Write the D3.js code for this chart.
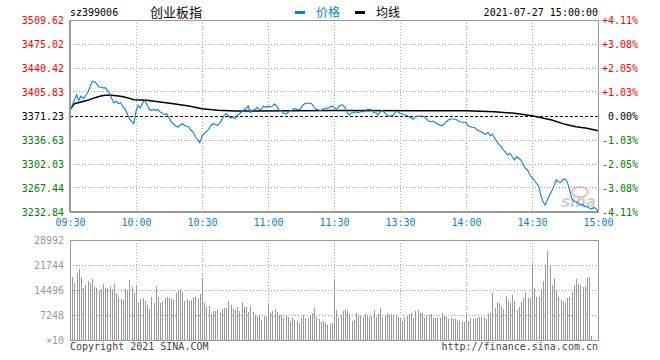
<!DOCTYPE html>
<html>
<head>
<meta charset="utf-8">
<script src="https://cdn.jsdelivr.net/npm/d3@7/dist/d3.min.js"></script>
<style>
  body { margin: 0; background: #fff; }
  text { font-family: "DejaVu Sans Mono", monospace; font-size: 10px; }
</style>
</head>
<body>
<div id="chart"></div>
<script>
const W = 660, H = 360;

// --- data ---
const code = "sz399006";
const title = "创业板指";
const stamp = "2021-07-27 15:00:00";
const prevClose = 3371.23;

const priceTicks = [3509.62, 3475.02, 3440.42, 3405.83, 3371.23, 3336.63, 3302.03, 3267.44, 3232.84];
const pctTicks = ["+4.11%", "+3.08%", "+2.05%", "+1.03%", "0.00%", "-1.03%", "-2.05%", "-3.08%", "-4.11%"];
const timeTicks = [0, 30, 60, 90, 120, 150, 180, 210, 240];
const timeLabels = ["09:30", "10:00", "10:30", "11:00", "11:30", "13:30", "14:00", "14:30", "15:00"];
const volTicks = [28992, 21744, 14496, 7248, 0];

// one price per minute, 0 = 09:30 ... 120 = 11:30/13:00 ... 240 = 15:00
const prices = [
  3379.45, 3386.66, 3393.87, 3401.94, 3393.87, 3400.07, 3396.17, 3400.07, 3404.82, 3412.32,
  3420.25, 3421.26, 3417.80, 3413.04, 3413.04, 3411.60, 3412.03, 3408.28, 3403.38, 3396.17,
  3390.41, 3392.42, 3388.96, 3390.41, 3384.21, 3381.75, 3374.55, 3367.34, 3363.59, 3360.13,
  3378.00, 3386.66, 3382.76, 3390.41, 3393.87, 3387.50, 3380.89, 3379.45, 3380.89, 3379.45,
  3380.31, 3377.00, 3375.00, 3373.10, 3374.55, 3368.35, 3362.58, 3360.13, 3356.81, 3355.37,
  3357.82, 3360.13, 3357.82, 3356.50, 3355.37, 3350.61, 3348.16, 3340.95, 3337.35, 3332.74,
  3342.39, 3345.71, 3349.17, 3352.05, 3357.82, 3360.13, 3359.26, 3357.82, 3360.50, 3366.00,
  3372.24, 3374.55, 3371.23, 3368.35, 3369.79, 3367.34, 3372.24, 3374.55, 3377.00, 3380.00,
  3381.75, 3385.65, 3375.99, 3379.88, 3379.88, 3383.77, 3380.89, 3380.89, 3385.65, 3383.77,
  3384.70, 3385.00, 3385.65, 3388.53, 3385.65, 3379.88, 3378.87, 3375.12, 3374.11, 3375.99,
  3378.87, 3379.88, 3382.33, 3380.89, 3379.88, 3382.33, 3387.09, 3389.54, 3389.54, 3389.54,
  3388.53, 3383.77, 3380.89, 3379.88, 3378.87, 3380.89, 3382.33, 3382.33, 3383.77, 3385.65,
  3383.77, 3380.89, 3383.77, 3387.09, 3387.09, 3383.77, 3375.99, 3372.67, 3375.99, 3375.99,
  3377.43, 3375.99, 3377.43, 3377.43, 3377.43, 3380.89, 3380.89, 3379.88, 3375.99, 3375.99,
  3372.67, 3377.43, 3378.87, 3375.99, 3372.67, 3371.23, 3371.23, 3372.67, 3377.43, 3377.43,
  3375.12, 3374.00, 3372.67, 3372.67, 3370.22, 3368.78, 3366.47, 3370.22, 3371.23, 3371.23,
  3371.23, 3370.22, 3367.50, 3364.02, 3363.01, 3364.02, 3362.15, 3360.00, 3358.25, 3357.25,
  3359.26, 3363.01, 3365.46, 3366.90, 3366.90, 3366.47, 3365.46, 3363.01, 3362.50, 3362.15,
  3362.15, 3357.25, 3355.80, 3355.00, 3354.36, 3351.05, 3349.60, 3348.59, 3346.29, 3344.85,
  3347.73, 3342.83, 3344.85, 3339.94, 3334.18, 3330.43, 3326.97, 3322.21, 3318.89, 3315.00,
  3317.45, 3312.55, 3307.79, 3312.55, 3310.24, 3307.79, 3300.58, 3295.83, 3293.38, 3286.17,
  3282.27, 3278.96, 3274.20, 3270.74, 3257.33, 3247.67, 3242.91, 3250.12, 3257.33, 3263.10,
  3270.31, 3278.96, 3276.51, 3275.64, 3278.96, 3280.40, 3276.51, 3266.00, 3252.57, 3248.68,
  3247.67, 3245.37, 3242.91, 3243.92, 3240.46, 3240.46, 3238.50, 3237.15, 3239.02, 3238.16,
  3233.25
];

// average price line, sampled
const avgMinutes = [0, 2, 5, 8, 11, 14, 16, 19, 23, 26, 29, 35, 41, 47, 54, 60, 67, 75, 81, 120, 160, 180, 193, 202, 210, 219, 225, 230, 235, 240];
const avgValues = [3380.0, 3388.96, 3391.41, 3393.87, 3397.18, 3400.07, 3401.07, 3401.07, 3399.63, 3397.61,
  3394.73, 3393.87, 3391.41, 3388.96, 3385.65, 3381.75, 3379.45, 3378.44, 3378.44, 3379.16,
  3378.87, 3378.87, 3377.43, 3375.12, 3371.66, 3365.46, 3359.26, 3355.80, 3353.50, 3350.04];

// volume per minute (hands / 10)
const volumes = [
  28200, 18360, 16620, 19520, 20580, 18360, 15000, 16000, 17000, 16500,
  17800, 15500, 15000, 14200, 14800, 16200, 15200, 15000, 15300, 14800,
  16200, 13600, 12300, 12000, 11500, 14800, 14200, 17500, 15500, 13500,
  15800, 10800, 11800, 12200, 11200, 10200, 9100, 12600, 10800, 15700,
  12600, 10800, 11300, 12200, 12600, 12200, 12000, 11500, 13700, 14500,
  14500, 13800, 11200, 12000, 11400, 11600, 12400, 12600, 11800, 13300,
  17900, 10700, 9600, 9900, 7500, 8500, 8300, 8800, 7800, 8988,
  9181, 9181, 11307, 10147, 8988, 8698, 9471, 8408, 10631, 9664,
  9471, 8021, 9857, 8118, 7151, 6571, 7151, 5798, 6958, 6571,
  10631, 7925, 8408, 8988, 8118, 7151, 7151, 6474, 7055, 6571,
  5219, 6281, 5798, 5508, 4832, 6281, 7248, 6281, 6474, 6958,
  7731, 9181, 6571, 5991, 5219, 5508, 4832, 4252, 4542, 4832,
  17588, 8698, 6474, 7248, 8408, 8988, 8408, 7538, 5605, 5798,
  7731, 6958, 6958, 6571, 7441, 6958, 6764, 7055, 8698, 6571,
  7538, 9277, 6571, 7248, 7731, 7248, 7538, 7151, 7151, 6571,
  6281, 5508, 6571, 6958, 7538, 7925, 6474, 8311, 8698, 7731,
  7925, 6281, 7055, 7248, 7441, 6281, 6474, 6474, 6281, 7925,
  6958, 6571, 5991, 6281, 5991, 5991, 5798, 5605, 5315, 5315,
  7538, 5605, 6281, 5991, 5991, 6281, 6764, 6764, 6571, 5991,
  7538, 7925, 13723, 9181, 11114, 10631, 9857, 8891, 12756, 11404,
  10824, 12950, 11404, 8698, 9664, 11114, 12080, 14013, 12080, 12080,
  22227, 15172, 12563, 12563, 14496, 17202, 21744, 25900, 21744, 15946,
  17588, 14303, 12563, 11597, 11114, 10631, 12080, 12563, 14013, 15946,
  17588, 16236, 15946, 15462, 15656, 17878, 18362, 1160, 0, 0,
  0
];

// --- layout ---
const L = 70, R = 598;
const pTop = 20, pBot = 212;
const vTop = 240, vBot = 340;
const red = "#ff0000", green = "#008000", blue = "#0a80d2", grey = "#999";

const x = d3.scaleLinear().domain([0, 240]).range([L, R]);
const y = d3.scaleLinear().domain([priceTicks[8], priceTicks[0]]).range([pBot, pTop]);
const yv = d3.scaleLinear().domain([0, volTicks[0]]).range([vBot, vTop]);

const svg = d3.select("#chart").append("svg")
  .attr("width", W).attr("height", H);

function tickColor(v) {
  return v > prevClose + 0.01 ? red : (v < prevClose - 0.01 ? green : "#000");
}

// grid, price panel
const grid = svg.append("g")
  .attr("stroke", "#aaa")
  .attr("stroke-dasharray", "1,2")
  .attr("shape-rendering", "crispEdges");

grid.selectAll(".hp")
  .data(priceTicks.slice(1, 8).filter(d => d !== prevClose))
  .join("line")
  .attr("x1", L).attr("x2", R)
  .attr("y1", d => y(d)).attr("y2", d => y(d));

grid.selectAll(".vp")
  .data(timeTicks.slice(1, 8))
  .join("line")
  .attr("class", "vp")
  .attr("x1", d => x(d)).attr("x2", d => x(d))
  .attr("y1", pTop).attr("y2", pBot);

// grid, volume panel
grid.selectAll(".hv")
  .data(volTicks.slice(1, 4))
  .join("line")
  .attr("class", "hv")
  .attr("x1", L).attr("x2", R)
  .attr("y1", d => yv(d)).attr("y2", d => yv(d));

grid.selectAll(".vv")
  .data(timeTicks.slice(1, 8))
  .join("line")
  .attr("class", "vv")
  .attr("x1", d => x(d)).attr("x2", d => x(d))
  .attr("y1", vTop).attr("y2", vBot);

// previous close, dashed
svg.append("line")
  .attr("x1", L).attr("x2", R)
  .attr("y1", y(prevClose)).attr("y2", y(prevClose))
  .attr("stroke", "#000")
  .attr("stroke-dasharray", "3,2")
  .attr("shape-rendering", "crispEdges");

// sina watermark
const wm = svg.append("g").attr("opacity", 0.55);
wm.append("ellipse").attr("cx", 580).attr("cy", 192).attr("rx", 8).attr("ry", 5)
  .attr("fill", "none").attr("stroke", "#f08080").attr("stroke-width", 2);
wm.append("text").attr("x", 596).attr("y", 207).attr("text-anchor", "end")
  .style("font-family", "DejaVu Sans").style("font-size", "15px")
  .style("font-weight", "bold").style("font-style", "italic")
  .attr("fill", "#aaa").text("sina");

// volume bars
svg.append("g")
  .attr("fill", grey)
  .attr("shape-rendering", "crispEdges")
  .selectAll("rect")
  .data(volumes)
  .join("rect")
  .attr("x", (d, i) => Math.round(x(i)))
  .attr("width", 1)
  .attr("y", d => yv(d))
  .attr("height", d => vBot - yv(d));

// average line
const avgPts = avgMinutes.map((m, i) => [m, avgValues[i]]);
svg.append("path")
  .datum(avgPts)
  .attr("fill", "none")
  .attr("stroke", "#000")
  .attr("stroke-width", 1.4)
  .attr("d", d3.line().x(d => x(d[0])).y(d => y(d[1])));

// price line
svg.append("path")
  .datum(prices)
  .attr("fill", "none")
  .attr("stroke", blue)
  .attr("stroke-width", 1.1)
  .attr("d", d3.line().x((d, i) => x(i)).y(d => y(d)));

// frames
const frame = svg.append("g").attr("fill", "none").attr("stroke", grey).attr("shape-rendering", "crispEdges");
frame.append("rect").attr("x", L).attr("y", pTop).attr("width", R - L).attr("height", pBot - pTop);
frame.append("rect").attr("x", L).attr("y", vTop).attr("width", R - L).attr("height", vBot - vTop);
frame.append("line").attr("x1", L).attr("x2", L).attr("y1", pTop).attr("y2", pBot).attr("stroke-width", 2);
frame.append("line").attr("x1", L).attr("x2", R).attr("y1", pBot).attr("y2", pBot).attr("stroke-width", 2);

// axes (labels only)
const leftAxis = svg.append("g")
  .attr("transform", `translate(${L},0)`)
  .call(d3.axisLeft(y).tickValues(priceTicks).tickSize(0).tickPadding(6).tickFormat(d3.format(".2f")));
leftAxis.select(".domain").remove();
leftAxis.selectAll("text")
  .style("font-family", "DejaVu Sans Mono").style("font-size", "10px")
  .attr("fill", d => tickColor(d));

const rightAxis = svg.append("g")
  .attr("transform", `translate(${R},0)`)
  .call(d3.axisRight(y).tickValues(priceTicks).tickSize(0).tickPadding(40).tickFormat((d, i) => pctTicks[i]));
rightAxis.select(".domain").remove();
rightAxis.selectAll("text")
  .style("font-family", "DejaVu Sans Mono").style("font-size", "10px")
  .attr("text-anchor", "end")
  .attr("fill", d => tickColor(d));

const timeAxis = svg.append("g")
  .attr("transform", `translate(0,${pBot})`)
  .call(d3.axisBottom(x).tickValues(timeTicks).tickSize(0).tickPadding(7).tickFormat((d, i) => timeLabels[i]));
timeAxis.select(".domain").remove();
timeAxis.selectAll("text")
  .style("font-family", "DejaVu Sans Mono").style("font-size", "10px")
  .attr("fill", blue);

const volAxis = svg.append("g")
  .attr("transform", `translate(${L},0)`)
  .call(d3.axisLeft(yv).tickValues(volTicks).tickSize(0).tickPadding(6).tickFormat(d => d === 0 ? "×10" : d));
volAxis.select(".domain").remove();
volAxis.selectAll("text")
  .style("font-family", "DejaVu Sans Mono").style("font-size", "10px")
  .attr("fill", grey);

// header
svg.append("text").attr("x", L).attr("y", 16).attr("fill", "#000").text(code);
svg.append("text").attr("x", 150).attr("y", 17)
  .style("font-family", "Noto Sans CJK SC").style("font-size", "13px")
  .attr("fill", "#000").text(title);

const legend = [{ name: "价格", color: blue, x: 295 }, { name: "均线", color: "#000", x: 355 }];
const lg = svg.append("g").selectAll("g").data(legend).join("g")
  .attr("transform", d => `translate(${d.x},0)`);
lg.append("rect").attr("x", 0).attr("y", 11).attr("width", 10).attr("height", 3).attr("fill", d => d.color);
lg.append("text").attr("x", 21).attr("y", 17)
  .style("font-family", "Noto Sans CJK SC").style("font-size", "12px")
  .attr("fill", d => d.color).text(d => d.name);

svg.append("text").attr("x", R).attr("y", 16).attr("text-anchor", "end").attr("fill", "#000").text(stamp);

// footer
svg.append("text").attr("x", L).attr("y", 350).attr("fill", "#444").text("Copyright 2021 SINA.COM");
svg.append("text").attr("x", R).attr("y", 350).attr("text-anchor", "end").attr("fill", "#444").text("http://finance.sina.com.cn");
</script>
</body>
</html>
